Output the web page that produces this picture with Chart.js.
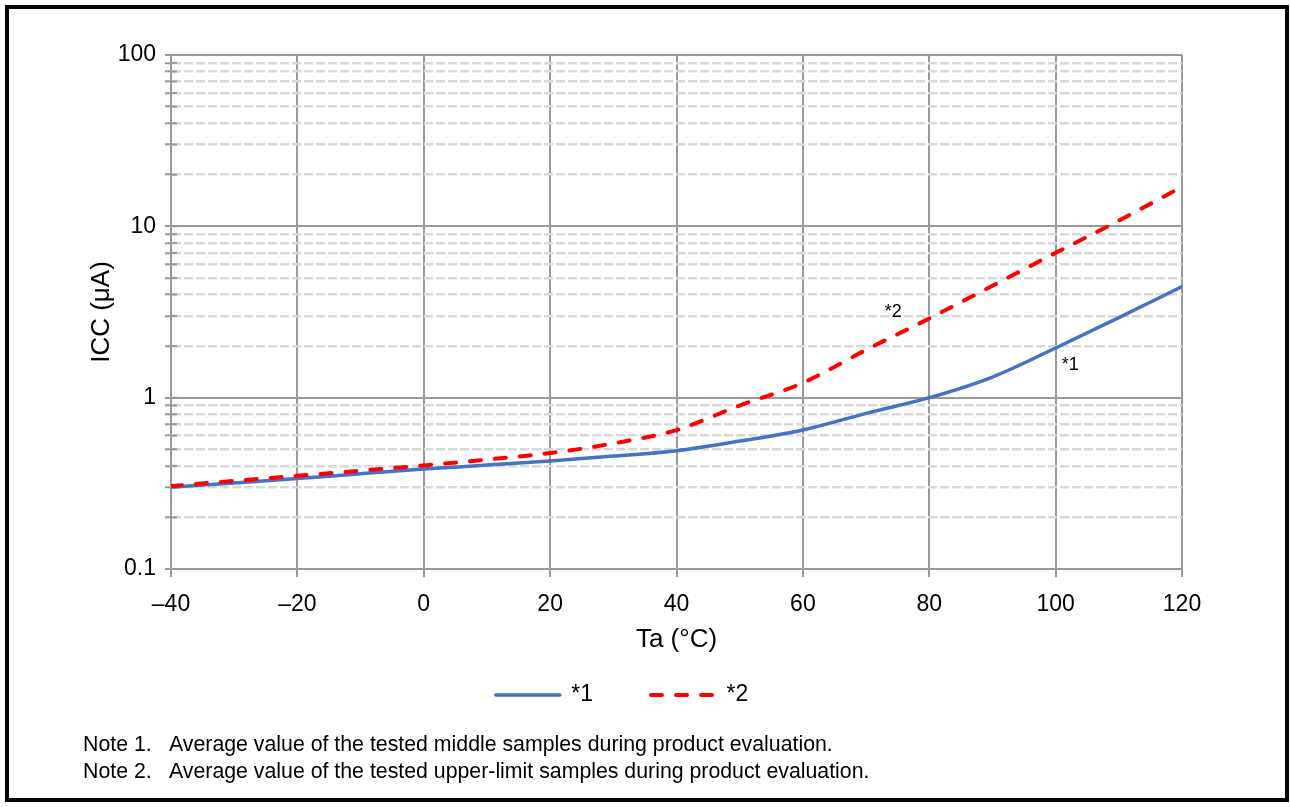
<!DOCTYPE html>
<html><head><meta charset="utf-8">
<script src="https://cdn.jsdelivr.net/npm/chart.js@4.4.1/dist/chart.umd.min.js"></script>
<style>
html,body{margin:0;padding:0;background:#fff;}
body{width:1290px;height:807px;position:relative;overflow:hidden;font-family:"Liberation Sans",Arial,sans-serif;}
#frame{position:absolute;left:5px;top:5px;width:1284px;height:797px;border:4px solid #000;box-sizing:border-box;}
#wrap{position:absolute;left:0;top:0;width:1290px;height:807px;}
.note{position:absolute;left:83px;font-size:21.3px;line-height:27px;color:#000;white-space:nowrap;}
.note span{display:inline-block;width:86px;}
</style></head><body>
<div id="frame"></div>
<div id="wrap"><canvas id="c" width="1290" height="807"></canvas></div>
<div class="note" style="top:731px"><span>Note 1.</span>Average value of the tested middle samples during product evaluation.</div>
<div class="note" style="top:758px"><span>Note 2.</span>Average value of the tested upper-limit samples during product evaluation.</div>
<script>
const FONT = '"Liberation Sans", Arial, sans-serif';

// ---- data ----
const temps = [-40, -30, -20, -10, 0, 10, 20, 30, 40, 50, 60, 70, 80, 90, 100, 110, 120];
const icc1  = [0.300, 0.318, 0.337, 0.360, 0.383, 0.404, 0.427, 0.456, 0.490, 0.558, 0.648, 0.810, 1.00, 1.32, 1.95, 2.93, 4.45];
const icc2  = [0.305, 0.327, 0.350, 0.375, 0.402, 0.435, 0.475, 0.541, 0.647, 0.900, 1.22, 1.90, 2.90, 4.50, 7.00, 10.8, 17.0];
const seriesNames = ['*1', '*2'];
const xTicks = [-40, -20, 0, 20, 40, 60, 80, 100, 120];
const yTicks = [0.1,0.2,0.3,0.4,0.5,0.6,0.7,0.8,0.9,1,2,3,4,5,6,7,8,9,10,20,30,40,50,60,70,80,90,100];
const yTickLabels = {'0.1':'0.1', '1':'1', '10':'10', '100':'100'};
const curveNotes = [{text:'*2', x:74.3, y:3.17}, {text:'*1', x:102.3, y:1.55}];

const isDecade = v => Math.abs(Math.log10(v) - Math.round(Math.log10(v))) < 1e-9;

const innerTicks = {
  id: 'innerTicks',
  beforeDatasetsDraw(chart) {
    const s = chart.scales.y, ctx = chart.ctx;
    ctx.save();
    ctx.strokeStyle = '#999999';
    ctx.lineWidth = 2;
    s.ticks.forEach(t => {
      const p = s.getPixelForValue(t.value);
      ctx.beginPath();
      ctx.moveTo(s.right, p);
      ctx.lineTo(s.right + 6, p);
      ctx.stroke();
    });
    ctx.restore();
  }
};

const curveLabels = {
  id: 'curveLabels',
  afterDatasetsDraw(chart) {
    const ctx = chart.ctx, xs = chart.scales.x, ys = chart.scales.y;
    ctx.save();
    ctx.font = '18px ' + FONT;
    ctx.fillStyle = '#000';
    ctx.textAlign = 'center';
    ctx.textBaseline = 'middle';
    curveNotes.forEach(a => ctx.fillText(a.text, xs.getPixelForValue(a.x), ys.getPixelForValue(a.y)));
    ctx.restore();
  }
};

new Chart(document.getElementById('c'), {
  type: 'line',
  data: {
    datasets: [
      { label: seriesNames[0], data: temps.map((t, i) => ({x: t, y: icc1[i]})),
        borderColor: '#4472C4', borderWidth: 3.5, pointRadius: 0, cubicInterpolationMode: 'monotone',
        borderCapStyle: 'round', fill: false, order: 1 },
      { label: seriesNames[1], data: temps.map((t, i) => ({x: t, y: icc2[i]})),
        borderColor: '#FF0000', borderWidth: 4, borderDash: [11, 14], borderCapStyle: 'round',
        pointRadius: 0, cubicInterpolationMode: 'monotone', fill: false, order: 0 }
    ]
  },
  options: {
    responsive: false,
    animation: false,
    events: [],
    layout: { padding: { left: 62, right: 108, top: 55, bottom: 90.5 } },
    plugins: {
      tooltip: { enabled: false },
      legend: {
        position: 'bottom', align: 'center',
        labels: {
          usePointStyle: true, pointStyle: 'line', pointStyleWidth: 64, padding: 58,
          color: '#000', font: { size: 23, family: FONT },
          sort: (a, b) => a.datasetIndex - b.datasetIndex,
          generateLabels(chart) {
            const items = Chart.defaults.plugins.legend.labels.generateLabels(chart);
            items.forEach(it => {
              const ds = chart.data.datasets[it.datasetIndex];
              it.lineWidth = ds.borderWidth;
              it.lineDash = ds.borderDash || [];
              it.lineCap = ds.borderCapStyle;
              it.strokeStyle = ds.borderColor;
            });
            return items;
          }
        }
      }
    },
    scales: {
      x: {
        type: 'linear', min: -40, max: 120,
        afterBuildTicks: s => { s.ticks = xTicks.map(v => ({value: v})); },
        afterFit: s => { s.height = 56.5; },
        ticks: { autoSkip: false, maxRotation: 0, padding: 14, color: '#000', font: { size: 23, family: FONT },
                 callback: v => v < 0 ? '\u2013' + Math.abs(v) : String(v) },
        grid: { color: '#999999', lineWidth: 2, tickColor: '#999999', tickWidth: 2, tickLength: 8 },
        border: { display: true, color: '#999999', width: 2 },
        title: { display: true, text: 'Ta (°C)', color: '#000', font: { size: 26, family: FONT },
                 padding: { top: 0, bottom: -30 } }
      },
      y: {
        type: 'logarithmic', min: 0.1, max: 100,
        afterBuildTicks: s => { s.ticks = yTicks.map(v => ({value: v, major: isDecade(v)})); },
        afterFit: s => { s.width = 109; },
        ticks: { autoSkip: false, padding: 9, color: '#000', font: { size: 23, family: FONT },
                 callback: v => yTickLabels[String(v)] ?? '' },
        grid: {
          color: c => (c.tick && !isDecade(c.tick.value)) ? '#D9D9D9' : '#999999',
          lineWidth: c => (c.tick && !isDecade(c.tick.value)) ? 2.6 : 2,
          tickColor: '#999999', tickWidth: 2, tickLength: 6, tickBorderDash: []
        },
        border: { display: true, color: '#999999', width: 2,
                  dash: c => (c.tick && !isDecade(c.tick.value)) ? [9, 3] : [] },
        title: { display: true, text: 'ICC (μA)', color: '#000', font: { size: 26, family: FONT },
                 padding: { top: 24.4, bottom: 0 } }
      }
    }
  },
  plugins: [innerTicks, curveLabels]
});
</script>
</body></html>
